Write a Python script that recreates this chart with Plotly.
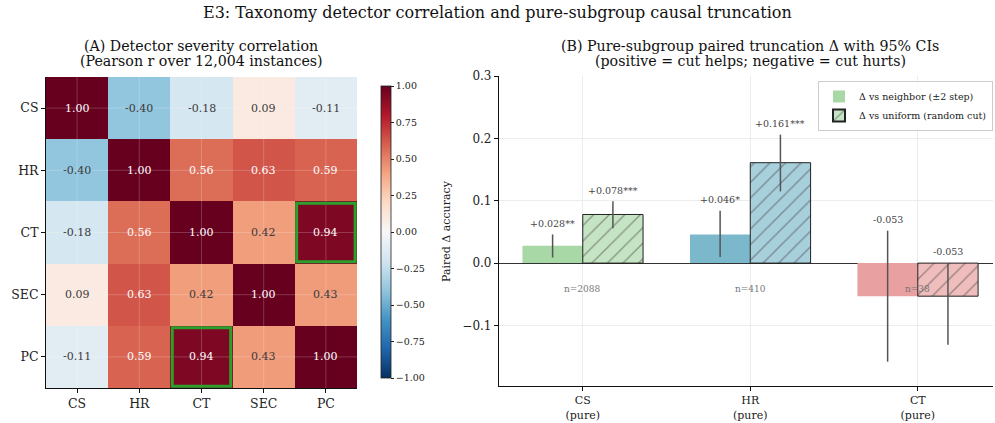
import plotly.graph_objects as go

# ---------------- data ----------------
detectors = ["CS", "HR", "CT", "SEC", "PC"]
corr = [
    [1.00, -0.40, -0.18, 0.09, -0.11],
    [-0.40, 1.00, 0.56, 0.63, 0.59],
    [-0.18, 0.56, 1.00, 0.42, 0.94],
    [0.09, 0.63, 0.42, 1.00, 0.43],
    [-0.11, 0.59, 0.94, 0.43, 1.00],
]
highlight_pairs = [(2, 4), (4, 2)]  # (row, col)

groups = ["CS", "HR", "CT"]
group_labels = ["CS<br>(pure)", "HR<br>(pure)", "CT<br>(pure)"]
n_sizes = [2088, 410, 38]
neighbor_delta = [0.028, 0.046, -0.053]
neighbor_lo = [0.009, 0.010, -0.158]
neighbor_hi = [0.046, 0.084, 0.052]
neighbor_stars = ["**", "*", ""]
uniform_delta = [0.078, 0.161, -0.053]
uniform_lo = [0.056, 0.115, -0.131]
uniform_hi = [0.099, 0.206, 0.000]
uniform_stars = ["***", "***", ""]

main_title = "E3: Taxonomy detector correlation and pure-subgroup causal truncation"
title_a = ["(A) Detector severity correlation", "(Pearson r over 12,004 instances)"]
title_b = ["(B) Pure-subgroup paired truncation Δ with 95% CIs",
           "(positive = cut helps; negative = cut hurts)"]

# ---------------- styles ----------------
FONT = "DejaVu Serif"
W, H = 995, 423
rdbu_r = ["#053061", "#2166ac", "#4393c3", "#92c5de", "#d1e5f0", "#f7f7f7",
          "#fddbc7", "#f4a582", "#d6604d", "#b2182b", "#67001f"]
colorscale = [[i / 10, c] for i, c in enumerate(rdbu_r)]
neighbor_colors = ["#a8d8a6", "#7bb8cb", "#e8a0a1"]
uniform_colors = ["#c5e4c3", "#a7cfdc", "#f0bdbd"]

def px_x(p):
    return p / W

def px_y(p):
    return 1 - p / H

fig = go.Figure()

# ---------------- panel A: heatmap ----------------
idx = list(range(len(detectors)))
fig.add_trace(go.Heatmap(
    z=corr, x=idx, y=idx, zmin=-1, zmax=1, colorscale=colorscale,
    xaxis="x", yaxis="y", showscale=True, showlegend=False,
    colorbar=dict(
        x=px_x(371), xanchor="left", y=px_y(232), yanchor="middle",
        len=312 / H, lenmode="fraction", thickness=10,
        outlinewidth=0.8, outlinecolor="#222",
        tickvals=[-1, -0.75, -0.5, -0.25, 0, 0.25, 0.5, 0.75, 1],
        tickformat=".2f", ticks="outside", ticklen=3, tickcolor="#222",
        tickfont=dict(family=FONT, size=9.5, color="#222"),
    ),
))

annotations = []
for i, row in enumerate(corr):
    for j, v in enumerate(row):
        annotations.append(dict(
            x=j, y=i, xref="x", yref="y", text=f"{v:.2f}", showarrow=False,
            xanchor="center", yanchor="middle",
            font=dict(family=FONT, size=11, color="white" if abs(v) > 0.5 else "#3a3a3a"),
        ))

shapes = []
# faint grid lines over heatmap at cell centers
for k in idx:
    shapes.append(dict(type="line", xref="x", yref="y", x0=k, x1=k, y0=-0.5, y1=4.5,
                       line=dict(color="rgba(255,255,255,0.25)", width=0.8), layer="above"))
    shapes.append(dict(type="line", xref="x", yref="y", x0=-0.5, x1=4.5, y0=k, y1=k,
                       line=dict(color="rgba(255,255,255,0.25)", width=0.8), layer="above"))
for (r, c) in highlight_pairs:
    shapes.append(dict(type="rect", xref="x", yref="y", x0=c - 0.47, x1=c + 0.47,
                       y0=r - 0.47, y1=r + 0.47, line=dict(color="#2ca02c", width=3), layer="above"))

# ---------------- panel B: bars ----------------
gx = list(range(len(groups)))
neighbor_plus = [h - v for h, v in zip(neighbor_hi, neighbor_delta)]
neighbor_minus = [v - l for l, v in zip(neighbor_lo, neighbor_delta)]
uniform_plus = [h - v for h, v in zip(uniform_hi, uniform_delta)]
uniform_minus = [v - l for l, v in zip(uniform_lo, uniform_delta)]

fig.add_trace(go.Bar(
    x=gx, y=neighbor_delta, width=0.36, offset=-0.36, xaxis="x2", yaxis="y2",
    name="Δ vs neighbor (±2 step)",
    marker=dict(color=neighbor_colors, line=dict(width=0)),
    error_y=dict(type="data", array=neighbor_plus, arrayminus=neighbor_minus,
                 color="#555555", thickness=1.5, width=0),
))
fig.add_trace(go.Bar(
    x=gx, y=uniform_delta, width=0.36, offset=0.0, xaxis="x2", yaxis="y2",
    name="Δ vs uniform (random cut)",
    marker=dict(color=uniform_colors, line=dict(width=1, color="#222"),
                pattern=dict(shape="/", fgcolor="#222", size=11, solidity=0.12)),
    error_y=dict(type="data", array=uniform_plus, arrayminus=uniform_minus,
                 color="#555555", thickness=1.5, width=0),
))

def fmt(v, s):
    return (f"{v:+.3f}" if v > 0 else f"{v:.3f}") + s

for k in gx:
    annotations.append(dict(x=k - 0.18, y=max(neighbor_hi[k], 0) + 0.006, xref="x2", yref="y2",
                            text=fmt(neighbor_delta[k], neighbor_stars[k]), showarrow=False,
                            xanchor="center", yanchor="bottom",
                            font=dict(family=FONT, size=9.5, color="#444")))
    annotations.append(dict(x=k + 0.18, y=max(uniform_hi[k], 0) + 0.006, xref="x2", yref="y2",
                            text=fmt(uniform_delta[k], uniform_stars[k]), showarrow=False,
                            xanchor="center", yanchor="bottom",
                            font=dict(family=FONT, size=9.5, color="#444")))
    annotations.append(dict(x=k, y=-0.042, xref="x2", yref="y2", text=f"n={n_sizes[k]}",
                            showarrow=False, xanchor="center", yanchor="middle",
                            font=dict(family=FONT, size=9, color="#777")))

# titles
annotations.append(dict(x=0.5, y=px_y(12), xref="paper", yref="paper", showarrow=False,
                        xanchor="center", yanchor="middle", text=main_title,
                        font=dict(family=FONT, size=16, color="#111")))
for cx, lines in ((201, title_a), (750, title_b)):
    for li, (ty, txt) in enumerate(zip((46, 61.5), lines)):
        annotations.append(dict(x=px_x(cx), y=px_y(ty), xref="paper", yref="paper",
                                showarrow=False, xanchor="center", yanchor="middle", text=txt,
                                font=dict(family=FONT, size=14.2, color="#111")))
annotations.append(dict(x=px_x(446), y=px_y(231), xref="paper", yref="paper", showarrow=False,
                        xanchor="center", yanchor="middle",
                        text="Paired Δ accuracy", textangle=-90,
                        font=dict(family=FONT, size=11, color="#222")))

fig.update_layout(
    width=W, height=H, autosize=False,
    margin=dict(l=0, r=0, t=0, b=0, pad=0),
    paper_bgcolor="white", plot_bgcolor="white",
    barmode="overlay",
    font=dict(family=FONT, color="#222"),
    xaxis=dict(domain=[px_x(46), px_x(357)], range=[-0.5, 4.5], tickvals=idx, ticktext=detectors,
               showline=True, linecolor="#111", linewidth=1, ticks="outside", ticklen=4,
               tickcolor="#111", showgrid=False, zeroline=False, automargin=False,
               tickfont=dict(family=FONT, size=12.5, color="#222")),
    yaxis=dict(domain=[px_y(388), px_y(77)], range=[4.5, -0.5], tickvals=idx, ticktext=detectors,
               showline=True, linecolor="#111", linewidth=1, ticks="outside", ticklen=4,
               tickcolor="#111", showgrid=False, zeroline=False, anchor="x", automargin=False,
               tickfont=dict(family=FONT, size=12.5, color="#222")),
    xaxis2=dict(domain=[px_x(499), px_x(993)], range=[-0.5, 2.449], tickvals=gx, ticktext=group_labels,
                showline=True, linecolor="#111", linewidth=1.2, ticks="outside", ticklen=4,
                tickcolor="#111", showgrid=True, gridcolor="#ececec", gridwidth=1, zeroline=False,
                anchor="y2", automargin=False, tickfont=dict(family=FONT, size=11, color="#222")),
    yaxis2=dict(domain=[px_y(386), px_y(76)], range=[-0.197, 0.3],
                tickvals=[-0.1, 0.0, 0.1, 0.2, 0.3], ticktext=["−0.1", "0.0", "0.1", "0.2", "0.3"],
                showline=True, linecolor="#111", linewidth=1.2, ticks="outside", ticklen=4,
                tickcolor="#111", showgrid=True, gridcolor="#ececec", gridwidth=1,
                zeroline=True, zerolinecolor="#333", zerolinewidth=1.2, automargin=False,
                anchor="x2", tickfont=dict(family=FONT, size=12, color="#222")),
    legend=dict(x=px_x(993), xanchor="right", y=px_y(81), yanchor="top",
                bgcolor="rgba(255,255,255,0.9)", bordercolor="#cccccc", borderwidth=1,
                font=dict(family=FONT, size=9.5, color="#222"), tracegroupgap=0,
                itemwidth=30, itemsizing="constant"),
    annotations=annotations,
    shapes=shapes,
)

fig.write_html("out.html")
